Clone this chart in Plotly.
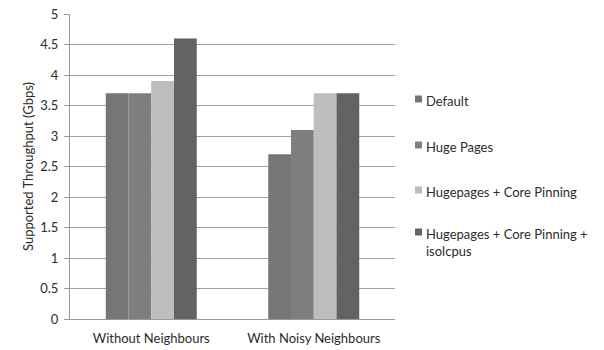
import plotly.graph_objects as go

categories = ["Without Neighbours", "With Noisy Neighbours"]
series_names = ["Default", "Huge Pages", "Hugepages + Core Pinning",
                "Hugepages + Core Pinning +<br>isolcpus"]
series_values = [
    [3.7, 2.7],
    [3.7, 3.1],
    [3.9, 3.7],
    [4.6, 3.7],
]
series_colors = ["#767676", "#7e7e7e", "#bdbdbd", "#636363"]
y_ticks = [0, 0.5, 1, 1.5, 2, 2.5, 3, 3.5, 4, 4.5, 5]
y_tick_labels = ["0", "0.5", "1", "1.5", "2", "2.5", "3", "3.5", "4", "4.5", "5"]

FONT = "Lato, 'Open Sans', sans-serif"
TXT = "#2c2c2c"
FS = 13

fig = go.Figure()
for name, vals, col in zip(series_names, series_values, series_colors):
    fig.add_trace(go.Bar(x=categories, y=vals, name=name, marker_color=col,
                         marker_line_width=0, showlegend=False))

fig.update_layout(
    width=604, height=350,
    margin=dict(l=70, r=209, t=14, b=31),
    paper_bgcolor="white", plot_bgcolor="white",
    barmode="group", bargap=0.44, bargroupgap=0,
    font=dict(family=FONT, size=FS, color=TXT),
)
fig.update_yaxes(range=[0, 5], tickvals=y_ticks, ticktext=y_tick_labels,
                 showgrid=True, gridcolor="#a0a0a0", gridwidth=1,
                 showline=True, linecolor="#999999", linewidth=1,
                 ticks="outside", ticklen=5, tickcolor="#999999",
                 ticklabelstandoff=3, zeroline=False, automargin=False,
                 title=dict(text="Supported Throughput (Gbps)", standoff=3,
                            font=dict(size=FS, color=TXT)))
fig.update_xaxes(showline=True, linecolor="#999999", linewidth=1,
                 ticks="", ticklabelstandoff=7, automargin=False)

# legend (built from series names / colours)
leg_y = [99, 145, 190, 232]
H = 350
for name, col, yy in zip(series_names, series_colors, leg_y):
    fig.add_shape(type="rect", xref="paper", yref="paper",
                  x0=(415 - 70) / 325, x1=(422 - 70) / 325,
                  y0=(H - 31 - (yy + 3.5)) / 305, y1=(H - 31 - (yy - 3.5)) / 305,
                  fillcolor=col, line_width=0)
    fig.add_annotation(xref="paper", yref="paper", x=(424 - 70) / 325,
                       y=(H - 31 - (yy - 8)) / 305, xanchor="left", yanchor="top",
                       text=name, showarrow=False, align="left",
                       font=dict(size=FS, color=TXT, family=FONT))

fig.write_html("out.html")
